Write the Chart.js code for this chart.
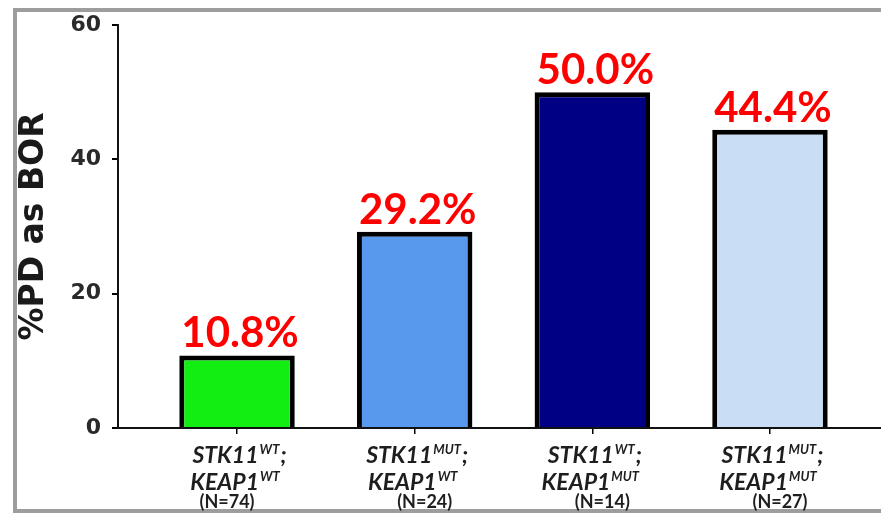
<!DOCTYPE html>
<html>
<head>
<meta charset="utf-8">
<script src="https://cdn.jsdelivr.net/npm/chart.js@4.4.1/dist/chart.umd.min.js"></script>
<style>
  html, body { margin: 0; padding: 0; background: #ffffff; }
  #wrap { width: 881px; height: 516px; }
</style>
</head>
<body>
<div id="wrap"><canvas id="pd" width="881" height="516"></canvas></div>
<script>
// Genotype groups (STK11 / KEAP1 status) and sample sizes
const stk11Status = ['WT', 'MUT', 'WT', 'MUT'];
const keap1Status = ['WT', 'WT', 'MUT', 'MUT'];
const sampleSizes = [74, 24, 14, 27];

// Progressive disease as best overall response, percent
const pdRates = [10.8, 29.2, 50.0, 44.4];

const barColors = ['#12ee12', '#5899ee', '#000084', '#c9ddf5'];

// y-axis range and tick step
const yMin = 0;
const yMax = 60;
const yStep = 20;
const yTitle = '%PD as BOR';

// Outer frame (left, top and bottom rules)
const framePlugin = {
  id: 'frame',
  beforeDraw(chart) {
    const ctx = chart.ctx;
    ctx.save();
    ctx.fillStyle = '#ffffff';
    ctx.fillRect(0, 0, chart.width, chart.height);
    ctx.strokeStyle = '#9d9d9d';
    ctx.lineWidth = 4;
    ctx.beginPath();
    ctx.moveTo(chart.width, 10);
    ctx.lineTo(15, 10);
    ctx.lineTo(15, 511);
    ctx.lineTo(chart.width, 511);
    ctx.stroke();
    ctx.restore();
  }
};

// Value labels above each bar
const valueLabelPlugin = {
  id: 'valueLabels',
  afterDatasetsDraw(chart) {
    const ctx = chart.ctx;
    const meta = chart.getDatasetMeta(0);
    ctx.save();
    ctx.fillStyle = '#ff0000';
    ctx.font = 'bold 42px Lato';
    ctx.textAlign = 'center';
    ctx.textBaseline = 'alphabetic';
    meta.data.forEach((bar, i) => {
      ctx.fillText(pdRates[i].toFixed(1) + '%', bar.x + 3, bar.y - 8);
    });
    ctx.restore();
  }
};

// Group labels under the x axis, with superscript genotype status
const groupLabelPlugin = {
  id: 'groupLabels',
  afterDraw(chart) {
    const ctx = chart.ctx;
    const xs = chart.scales.x;
    const mainFont = 'italic bold 23px Lato';
    const supFont = 'italic bold 13px Lato';
    ctx.save();
    ctx.fillStyle = '#1e1e1e';
    ctx.textBaseline = 'alphabetic';
    ctx.textAlign = 'left';

    function geneLine(cx, baseline, gene, status, tail) {
      ctx.font = mainFont;
      const wMain = ctx.measureText(gene).width;
      const wTail = tail ? ctx.measureText(tail).width : 0;
      ctx.font = supFont;
      const wSup = ctx.measureText(status).width + 1;
      let x = cx - (wMain + wSup + wTail) / 2;
      ctx.font = mainFont;
      ctx.fillText(gene, x, baseline);
      x += wMain + 1;
      ctx.font = supFont;
      ctx.fillText(status, x, baseline - 9);
      x += wSup;
      if (tail) {
        ctx.font = mainFont;
        ctx.fillText(tail, x, baseline);
      }
    }

    pdRates.forEach((_, i) => {
      const cx = xs.getPixelForValue(i);
      geneLine(cx + 2, 463, 'STK11', stk11Status[i], ';');
      geneLine(cx - 2, 490, 'KEAP1', keap1Status[i], '');
      ctx.font = 'bold 18px Lato';
      ctx.textAlign = 'center';
      ctx.fillText('(N=' + sampleSizes[i] + ')', cx + (i === 0 ? -10 : 10), 508);
      ctx.textAlign = 'left';
    });
    ctx.restore();
  }
};

// Rotated y-axis title
const yTitlePlugin = {
  id: 'yTitle',
  afterDraw(chart) {
    const ctx = chart.ctx;
    const ys = chart.scales.y;
    ctx.save();
    ctx.translate(43, (ys.top + ys.bottom) / 2);
    ctx.rotate(-Math.PI / 2);
    ctx.fillStyle = '#1a1a1a';
    ctx.font = 'bold 33px "DejaVu Sans"';
    ctx.textAlign = 'center';
    ctx.textBaseline = 'alphabetic';
    ctx.fillText(yTitle, 0, 0);
    ctx.restore();
  }
};

new Chart(document.getElementById('pd'), {
  type: 'bar',
  data: {
    datasets: [{
      data: pdRates.map((v, i) => ({ x: i, y: v })),
      backgroundColor: barColors,
      borderColor: '#000000',
      borderWidth: 5,
      borderSkipped: 'start',
      categoryPercentage: 1.0,
      barPercentage: 0.65
    }]
  },
  options: {
    responsive: false,
    devicePixelRatio: 1,
    animation: false,
    layout: { padding: { top: 25, left: 0, right: 0, bottom: 0 } },
    plugins: {
      legend: { display: false },
      tooltip: { enabled: false }
    },
    scales: {
      x: {
        type: 'linear',
        offset: false,
        min: -0.67,
        max: 3.625,
        afterBuildTicks(scale) {
          scale.ticks = pdRates.map((_, i) => ({ value: i }));
        },
        afterFit(scale) { scale.height = 88; },
        grid: {
          display: true,
          offset: false,
          drawOnChartArea: false,
          drawTicks: true,
          tickLength: 6,
          color: '#000000',
          lineWidth: 1.5
        },
        border: { display: true, color: '#111111', width: 2 },
        ticks: { display: false }
      },
      y: {
        min: yMin,
        max: yMax,
        afterFit(scale) { scale.width = 118; },
        grid: {
          display: true,
          drawOnChartArea: false,
          drawTicks: true,
          tickLength: 6,
          color: '#000000',
          lineWidth: 2
        },
        border: { display: true, color: '#111111', width: 2 },
        ticks: {
          stepSize: yStep,
          padding: 11,
          color: '#2a2a2a',
          font: { family: 'DejaVu Sans', weight: 'bold', size: 22 }
        }
      }
    }
  },
  plugins: [framePlugin, valueLabelPlugin, groupLabelPlugin, yTitlePlugin]
});
</script>
</body>
</html>
